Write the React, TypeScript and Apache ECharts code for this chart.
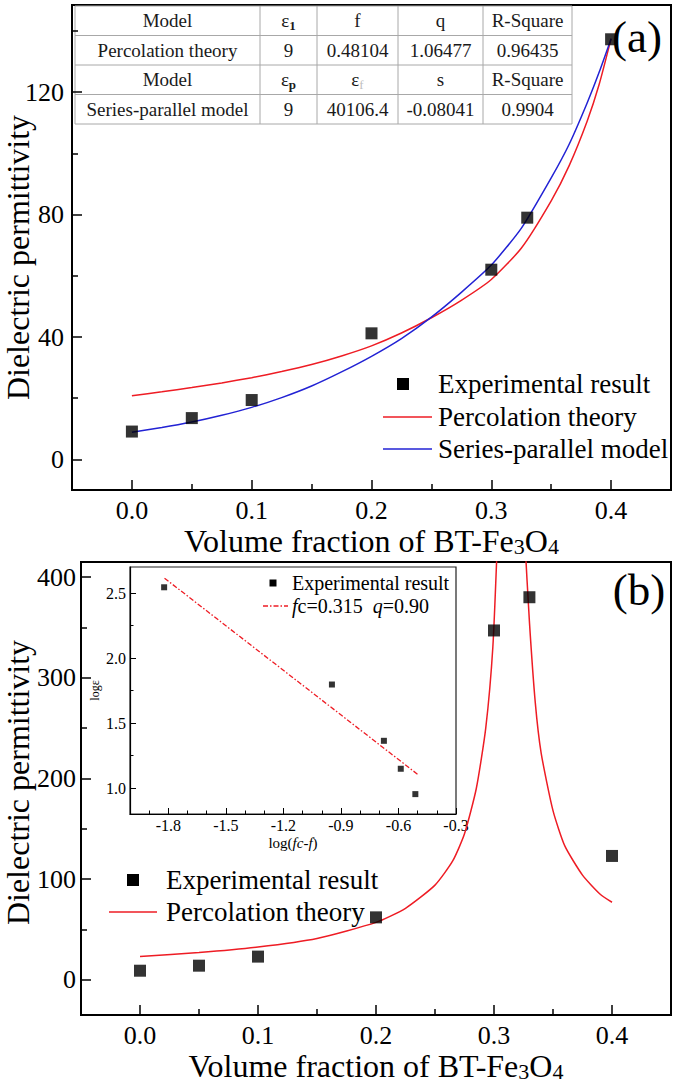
import { useEffect, useRef } from 'react';
import * as echarts from 'echarts';

const SERIF = 'Liberation Serif, Times New Roman, serif';
const RED = '#ee1c24';
const BLUE = '#2222d4';

// ---------------- Panel (a) data ----------------
const fractionA = [0, 0.05, 0.1, 0.2, 0.3, 0.33, 0.4];
const experimentalA = [9.1, 13.5, 19.4, 41.2, 62, 79, 137.3];
const modelFractionA = [0, 0.025, 0.05, 0.075, 0.1, 0.125, 0.15, 0.175, 0.2, 0.225, 0.25, 0.275, 0.3, 0.325, 0.35, 0.365, 0.38, 0.39, 0.4];
const percolationA = [20.8, 22.1, 23.5, 25.0, 26.7, 28.7, 31.0, 33.8, 37.1, 41.3, 46.3, 52.0, 58.8, 69.0, 84.5, 96, 110.5, 122.5, 137.5];
const seriesParallelA = [8.9, 10.4, 12.2, 14.4, 17.0, 20.2, 24.0, 28.6, 33.7, 39.5, 46.5, 54.6, 63.5, 75.5, 92.0, 103, 116.5, 126.5, 137.5];

// ---------------- Panel (b) data ----------------
const fractionB = [0, 0.05, 0.1, 0.2, 0.3, 0.33, 0.4];
const experimentalB = [9, 14, 23, 62, 347, 380, 123];
const percLowFraction = [0, 0.05, 0.1, 0.15, 0.2, 0.225, 0.25, 0.265, 0.275, 0.285, 0.293, 0.299, 0.303];
const percLowValue = [23, 27, 32.5, 41, 57, 71, 94, 118, 145, 190, 250, 330, 440];
const percHighFraction = [0.326, 0.33, 0.335, 0.34, 0.35, 0.36, 0.375, 0.39, 0.4];
const percHighValue = [440, 356, 275, 225, 168, 133, 104, 85, 77];

// ---------------- Inset data ----------------
const insetLogDiff = [-1.822, -0.947, -0.676, -0.588, -0.512];
const insetLogEps = [2.544, 1.796, 1.363, 1.148, 0.953];
const fitLogDiff = [-1.82, -0.5];
const fitLogEps = [2.614, 1.105];

// ---------------- Ticks ----------------
const xTicksMajor = [0, 0.1, 0.2, 0.3, 0.4];
const xTicksMinor = [0.05, 0.15, 0.25, 0.35];
const yTicksMajorA = [0, 40, 80, 120];
const yTicksMinorA = [20, 60, 100, 140];
const yTicksMajorB = [0, 100, 200, 300, 400];
const yTicksMinorB = [50, 150, 250, 350];
const insetXMajor = [-1.8, -1.5, -1.2, -0.9, -0.6, -0.3];
const insetXMinor = [-1.9, -1.7, -1.6, -1.4, -1.3, -1.1, -1.0, -0.8, -0.7, -0.5, -0.4];
const insetYMajor = [1.0, 1.5, 2.0, 2.5];
const insetYMinor = [1.25, 1.75, 2.25];

// ---------------- Texts ----------------
const tableRows = [
  ['Model', '{e|ε}{sub|1}', 'f', 'q', 'R-Square'],
  ['Percolation theory', '9', '0.48104', '1.06477', '0.96435'],
  ['Model', '{e|ε}{sub|p}', '{e|ε}{faint|f}', 's', 'R-Square'],
  ['Series-parallel model', '9', '40106.4', '-0.08041', '0.9904'],
];
const legendA = ['Experimental result', 'Percolation theory', 'Series-parallel model'];
const legendB = ['Experimental result', 'Percolation theory'];
const legendInset = ['Experimental result', '{i|f}c=0.315  {i|q}=0.90'];
const xTitle = '{n|Volume fraction of BT-Fe}{s|3}{n|O}{s|4}';
const yTitle = 'Dielectric permittivity';

// ---------------- Layout ----------------
const TABLE_X = [75, 260, 317, 398, 483, 572];
const TABLE_Y = [6, 35.5, 65, 94.5, 124];

const pairs = (xs: number[], ys: number[]) => xs.map((x, i) => [x, ys[i]]);

const titleStyle = {
  fontFamily: SERIF,
  fontSize: 32,
  lineHeight: 32,
  color: '#000',
  rich: {
    n: { fontFamily: SERIF, fontSize: 32, lineHeight: 32, color: '#000', verticalAlign: 'bottom' },
    s: { fontFamily: SERIF, fontSize: 22, lineHeight: 32, color: '#000', verticalAlign: 'bottom' },
  },
};

function mainAxis(kind: 'x' | 'y', gridIndex: number, min: number, max: number, majors: number[], o: any) {
  return {
    type: 'value',
    gridIndex,
    min,
    max,
    position: kind === 'x' ? 'bottom' : 'left',
    axisLine: { show: true, onZero: false, lineStyle: { color: '#000', width: o.lineWidth } },
    axisTick: { show: true, inside: true, length: o.tick, customValues: majors, lineStyle: { color: '#000', width: o.tickWidth } },
    axisLabel: {
      show: true,
      customValues: majors,
      formatter: o.fmt,
      margin: o.margin,
      fontSize: o.fontSize,
      lineHeight: o.fontSize,
      fontFamily: SERIF,
      color: '#000',
    },
    splitLine: { show: false },
    name: o.name,
    nameLocation: 'middle',
    nameGap: o.nameGap,
    nameMoveOverlap: false,
    nameTextStyle: o.nameTextStyle,
  };
}

function minorAxis(kind: 'x' | 'y', gridIndex: number, min: number, max: number, minors: number[], len: number, width: number) {
  return {
    type: 'value',
    gridIndex,
    min,
    max,
    position: kind === 'x' ? 'bottom' : 'left',
    axisLine: { show: false, onZero: false },
    axisTick: { show: true, inside: true, length: len, customValues: minors, lineStyle: { color: '#000', width } },
    axisLabel: { show: false },
    splitLine: { show: false },
  };
}

const fmt1 = (v: number) => v.toFixed(1);
const fmt0 = (v: number) => String(Math.round(v));

function buildGraphic() {
  const g: any[] = [];
  TABLE_Y.forEach((y) => {
    g.push({ type: 'line', shape: { x1: TABLE_X[0], y1: y, x2: TABLE_X[5], y2: y }, style: { stroke: '#a8a8a8', lineWidth: 1 } });
  });
  TABLE_X.forEach((x) => {
    g.push({ type: 'line', shape: { x1: x, y1: TABLE_Y[0], x2: x, y2: TABLE_Y[4] }, style: { stroke: '#a8a8a8', lineWidth: 1 } });
  });
  tableRows.forEach((row, r) => {
    row.forEach((cell, c) => {
      g.push({
        type: 'text',
        x: (TABLE_X[c] + TABLE_X[c + 1]) / 2,
        y: (TABLE_Y[r] + TABLE_Y[r + 1]) / 2,
        style: {
          text: cell,
          align: 'center',
          verticalAlign: 'middle',
          fontFamily: SERIF,
          fontSize: 19,
          fill: '#1a1a1a',
          rich: {
            e: { fontFamily: SERIF, fontSize: 19, fill: '#1a1a1a' },
            sub: { fontFamily: SERIF, fontSize: 13, fill: '#1a1a1a', fontWeight: 'bold', padding: [10, 0, 0, 0] },
            faint: { fontFamily: SERIF, fontSize: 13, fill: '#c0c0c0', padding: [10, 0, 0, 0] },
          },
        },
      });
    });
  });

  g.push({ type: 'text', x: 637, y: 37, style: { text: '(a)', align: 'center', verticalAlign: 'middle', fontFamily: SERIF, fontSize: 45, fill: '#000' } });
  g.push({ type: 'text', x: 639, y: 590, style: { text: '(b)', align: 'center', verticalAlign: 'middle', fontFamily: SERIF, fontSize: 45, fill: '#000' } });

  const rowsA = [384, 417, 449];
  g.push({ type: 'rect', shape: { x: 397, y: rowsA[0] - 6, width: 12, height: 12 }, style: { fill: '#000' } });
  g.push({ type: 'line', shape: { x1: 383, y1: rowsA[1], x2: 432, y2: rowsA[1] }, style: { stroke: RED, lineWidth: 1.5 } });
  g.push({ type: 'line', shape: { x1: 383, y1: rowsA[2], x2: 432, y2: rowsA[2] }, style: { stroke: BLUE, lineWidth: 1.5 } });
  legendA.forEach((t, i) => {
    g.push({ type: 'text', x: 438, y: rowsA[i], style: { text: t, align: 'left', verticalAlign: 'middle', fontFamily: SERIF, fontSize: 27, fill: '#000' } });
  });

  const rowsB = [880, 912];
  g.push({ type: 'rect', shape: { x: 127, y: rowsB[0] - 6, width: 12, height: 12 }, style: { fill: '#000' } });
  g.push({ type: 'line', shape: { x1: 109, y1: rowsB[1], x2: 157, y2: rowsB[1] }, style: { stroke: RED, lineWidth: 1.5 } });
  legendB.forEach((t, i) => {
    g.push({ type: 'text', x: 166, y: rowsB[i], style: { text: t, align: 'left', verticalAlign: 'middle', fontFamily: SERIF, fontSize: 27, fill: '#000' } });
  });

  const rowsI = [583, 606];
  g.push({ type: 'rect', shape: { x: 269.5, y: rowsI[0] - 3.5, width: 7, height: 7 }, style: { fill: '#000' } });
  g.push({ type: 'line', shape: { x1: 263, y1: rowsI[1], x2: 288, y2: rowsI[1] }, style: { stroke: RED, lineWidth: 1.3, lineDash: [5, 2, 1.5, 2] } });
  legendInset.forEach((t, i) => {
    g.push({
      type: 'text',
      x: 292,
      y: rowsI[i],
      style: {
        text: t,
        align: 'left',
        verticalAlign: 'middle',
        fontFamily: SERIF,
        fontSize: 20,
        fill: '#000',
        rich: { i: { fontFamily: SERIF, fontSize: 20, fontStyle: 'italic', fill: '#000' } },
      },
    });
  });
  return g;
}

export default function App() {
  const ref = useRef<HTMLDivElement>(null);

  useEffect(() => {
    document.body.style.margin = '0';
    if (!ref.current) return;
    const chart = echarts.init(ref.current, null, { renderer: 'svg' });

    const curve = (name: string, xi: number, xs: number[], ys: number[], color: string) => ({
      type: 'line', name, xAxisIndex: xi, yAxisIndex: xi,
      data: pairs(xs, ys), symbol: 'none', smooth: 0.2,
      lineStyle: { color, width: 1.5 }, z: 3,
    });

    const option: any = {
      animation: false,
      backgroundColor: '#fff',
      textStyle: { fontFamily: SERIF },
      grid: [
        { left: 72, top: 5, width: 599, height: 485, show: true, borderColor: '#000', borderWidth: 2, containLabel: false, outerBoundsMode: 'none' },
        { left: 81, top: 562, width: 590, height: 453, show: true, borderColor: '#000', borderWidth: 2, containLabel: false, outerBoundsMode: 'none' },
        { left: 130, top: 567, width: 326, height: 247, show: true, borderColor: '#222', borderWidth: 1.2, backgroundColor: '#fff', containLabel: false, outerBoundsMode: 'none' },
      ],
      xAxis: [
        mainAxis('x', 0, -0.05, 0.45, xTicksMajor, { lineWidth: 2, tick: 10, tickWidth: 1.5, fmt: fmt1, margin: 7, fontSize: 26, name: xTitle, nameGap: 35, nameTextStyle: titleStyle }),
        minorAxis('x', 0, -0.05, 0.45, xTicksMinor, 6, 1.5),
        mainAxis('x', 1, -0.05, 0.45, xTicksMajor, { lineWidth: 2, tick: 10, tickWidth: 1.5, fmt: fmt1, margin: 7, fontSize: 26, name: xTitle, nameGap: 35, nameTextStyle: titleStyle }),
        minorAxis('x', 1, -0.05, 0.45, xTicksMinor, 6, 1.5),
        mainAxis('x', 2, -2.0, -0.3, insetXMajor, {
          lineWidth: 1.2, tick: 6, tickWidth: 1, fmt: fmt1, margin: 3, fontSize: 16,
          name: 'log({i|fc-f})', nameGap: 21,
          nameTextStyle: { fontFamily: SERIF, fontSize: 15, lineHeight: 15, color: '#000', rich: { i: { fontFamily: SERIF, fontSize: 15, lineHeight: 15, fontStyle: 'italic', color: '#000' } } },
        }),
        minorAxis('x', 2, -2.0, -0.3, insetXMinor, 3.5, 1),
      ],
      yAxis: [
        mainAxis('y', 0, -10, 148.5, yTicksMajorA, { lineWidth: 2, tick: 10, tickWidth: 1.5, fmt: fmt0, margin: 8, fontSize: 26, name: yTitle, nameGap: 38, nameTextStyle: { fontFamily: SERIF, fontSize: 32, color: '#000', padding: [0, 20, 0, 0] } }),
        minorAxis('y', 0, -10, 148.5, yTicksMinorA, 6, 1.5),
        mainAxis('y', 1, -35, 415, yTicksMajorB, { lineWidth: 2, tick: 10, tickWidth: 1.5, fmt: fmt0, margin: 5, fontSize: 26, name: yTitle, nameGap: 47, nameTextStyle: { fontFamily: SERIF, fontSize: 32, color: '#000', padding: [0, 0, 0, 12] } }),
        minorAxis('y', 1, -35, 415, yTicksMinorB, 6, 1.5),
        mainAxis('y', 2, 0.8, 2.7, insetYMajor, { lineWidth: 1.2, tick: 6, tickWidth: 1, fmt: fmt1, margin: 4, fontSize: 16, name: 'logε', nameGap: 29, nameTextStyle: { fontFamily: SERIF, fontSize: 12, color: '#000' } }),
        minorAxis('y', 2, 0.8, 2.7, insetYMinor, 3.5, 1),
      ],
      series: [
        curve('Percolation theory', 0, modelFractionA, percolationA, RED),
        curve('Series-parallel model', 0, modelFractionA, seriesParallelA, BLUE),
        {
          type: 'scatter', name: 'Experimental result', xAxisIndex: 0, yAxisIndex: 0,
          data: pairs(fractionA, experimentalA), symbol: 'rect', symbolSize: 12, itemStyle: { color: '#000' }, z: 5,
        },
        curve('Percolation theory', 2, percLowFraction, percLowValue, RED),
        curve('Percolation theory (upper branch)', 2, percHighFraction, percHighValue, RED),
        {
          type: 'scatter', name: 'Experimental result', xAxisIndex: 2, yAxisIndex: 2,
          data: pairs(fractionB, experimentalB), symbol: 'rect', symbolSize: 12, itemStyle: { color: '#000' }, z: 5,
        },
        {
          type: 'line', name: 'Fit fc=0.315 q=0.90', xAxisIndex: 4, yAxisIndex: 4,
          data: pairs(fitLogDiff, fitLogEps), symbol: 'none',
          lineStyle: { color: RED, width: 1.3, type: [5, 2, 1.5, 2] }, z: 6,
        },
        {
          type: 'scatter', name: 'Experimental result (inset)', xAxisIndex: 4, yAxisIndex: 4,
          data: pairs(insetLogDiff, insetLogEps), symbol: 'rect', symbolSize: 6, itemStyle: { color: '#000' }, z: 7,
        },
      ],
      graphic: buildGraphic(),
    };

    chart.setOption(option);
    return () => chart.dispose();
  }, []);

  return <div ref={ref} style={{ width: 675, height: 1086 }} />;
}
